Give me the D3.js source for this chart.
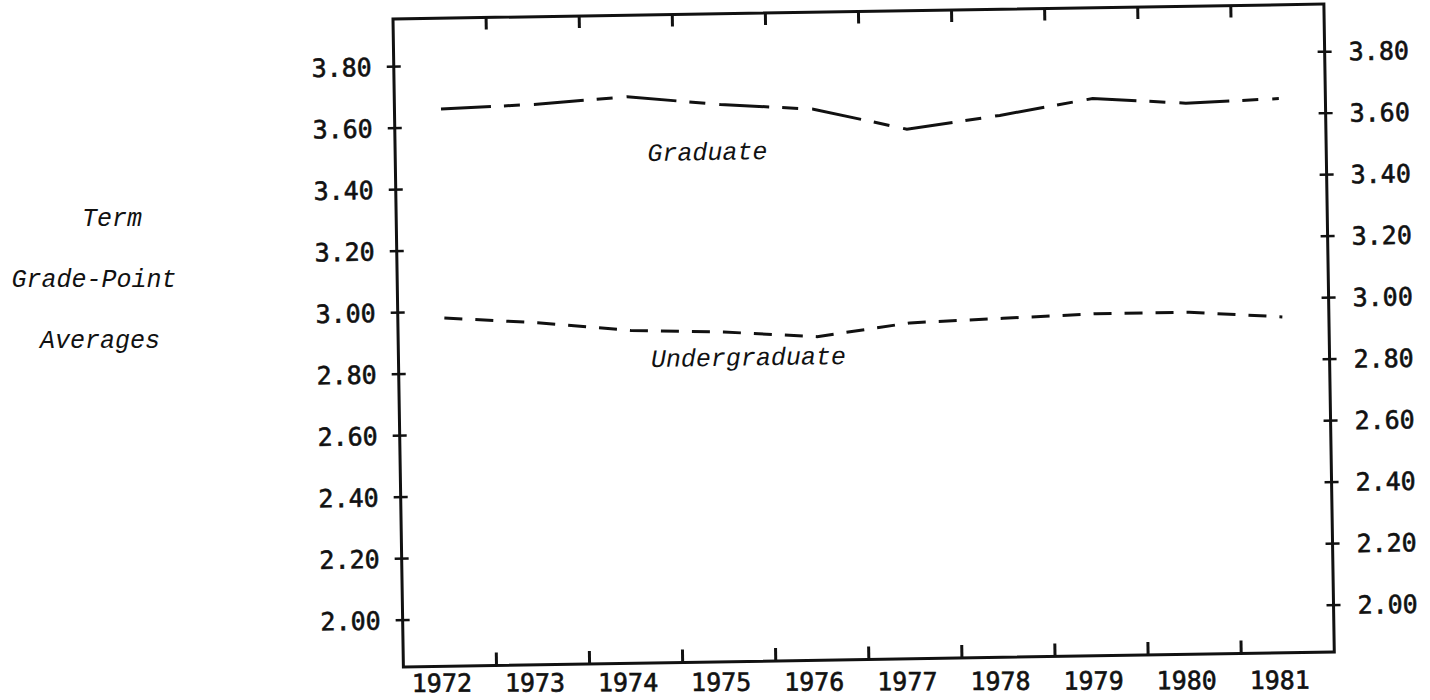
<!DOCTYPE html>
<html>
  <head>
    <title>Term Grade-Point Averages</title>
    <script src="https://unpkg.com/d3@7/dist/d3.min.js"></script>
    <style>
      body { margin: 0; background: #fff; }
      .num { font-family: "DejaVu Sans Mono", monospace; font-size: 25px; fill: #111; stroke: #111; stroke-width: 0.6px; }
      .lbl { font-family: "Liberation Mono", "DejaVu Sans Mono", monospace; font-style: italic; font-size: 25px; fill: #111; }
    </style>
  </head>
  <body>
    <svg width="1430" height="700"></svg>
    <script>

      const years = ["1972","1973","1974","1975","1976","1977","1978","1979","1980","1981"];
      const graduate =      [3.66, 3.67, 3.69, 3.66, 3.64, 3.57, 3.61, 3.66, 3.64, 3.65];
      const undergraduate = [2.98, 2.96, 2.93, 2.92, 2.90, 2.94, 2.95, 2.96, 2.96, 2.94];
      const yTicks = [2.00, 2.20, 2.40, 2.60, 2.80, 3.00, 3.20, 3.40, 3.60, 3.80];
      const sideTitle = ["Term", "Grade-Point", "Averages"];

      const width = 931, height = 648;
      const svg = d3.select("svg");

      // the scanned page is a little crooked, so the whole frame is tilted
      const g = svg.append("g")
          .attr("transform", "translate(393,19) rotate(-0.92)");
      // year labels were typed on a line that is almost level
      const gYears = svg.append("g")
          .attr("transform", "translate(393,19) rotate(-0.2)");

      const x = d3.scaleBand().domain(years).range([0, width]);
      const y = d3.scaleLinear().domain([2.00, 3.80]).range([601.2, 47.7]);

      // frame
      g.append("rect")
          .attr("width", width)
          .attr("height", height)
          .attr("fill", "none")
          .attr("stroke", "#111")
          .attr("stroke-width", 3);

      // ticks between the years, top and bottom
      const bounds = years.slice(1).map(d => x(d));
      g.selectAll(".ttick").data(bounds).join("line")
          .attr("x1", d => d).attr("x2", d => d)
          .attr("y1", 0).attr("y2", 12)
          .attr("stroke", "#111").attr("stroke-width", 3);
      g.selectAll(".btick").data(bounds).join("line")
          .attr("x1", d => d).attr("x2", d => d)
          .attr("y1", height).attr("y2", height - 13)
          .attr("stroke", "#111").attr("stroke-width", 3);

      // year labels
      gYears.selectAll(".year").data(years).join("text")
          .attr("class", "num")
          .attr("x", d => x(d) + x.bandwidth() / 2)
          .attr("y", 673)
          .attr("text-anchor", "middle")
          .text(d => d);

      // left and right value axes with crossing ticks
      [0, width].forEach((ax, i) => {
        g.selectAll(".yt" + i).data(yTicks).join("line")
            .attr("x1", ax - 7).attr("x2", ax + 7)
            .attr("y1", d => y(d)).attr("y2", d => y(d))
            .attr("stroke", "#111").attr("stroke-width", 2.5);
        g.selectAll(".yl" + i).data(yTicks).join("text")
            .attr("class", "num")
            .attr("x", i === 0 ? ax - 22 : ax + 24)
            .attr("y", d => y(d))
            .attr("dy", "0.36em")
            .attr("text-anchor", i === 0 ? "end" : "start")
            .text(d => d.toFixed(2));
      });

      const line = d3.line()
          .x((d, i) => x(years[i]) + x.bandwidth() / 2)
          .y(d => y(d));

      g.append("path")
          .datum(graduate)
          .attr("d", line)
          .attr("fill", "none")
          .attr("stroke", "#111")
          .attr("stroke-width", 3)
          .attr("stroke-dasharray", "50,13,16,14");

      g.append("path")
          .datum(undergraduate)
          .attr("d", line)
          .attr("fill", "none")
          .attr("stroke", "#111")
          .attr("stroke-width", 3)
          .attr("stroke-dasharray", "18,13");

      g.append("text")
          .attr("class", "lbl")
          .attr("x", x("1974") + x.bandwidth() * 0.71)
          .attr("y", y(3.48))
          .text("Graduate");

      g.append("text")
          .attr("class", "lbl")
          .attr("x", x("1974") + x.bandwidth() * 0.71)
          .attr("y", y(2.81))
          .text("Undergraduate");

      // side title
      svg.selectAll(".side").data(sideTitle).join("text")
          .attr("class", "lbl")
          .attr("x", (d, i) => [112, 94, 100][i])
          .attr("y", (d, i) => 226 + i * 61)
          .attr("text-anchor", "middle")
          .text(d => d);

    </script>
  </body>
</html>
